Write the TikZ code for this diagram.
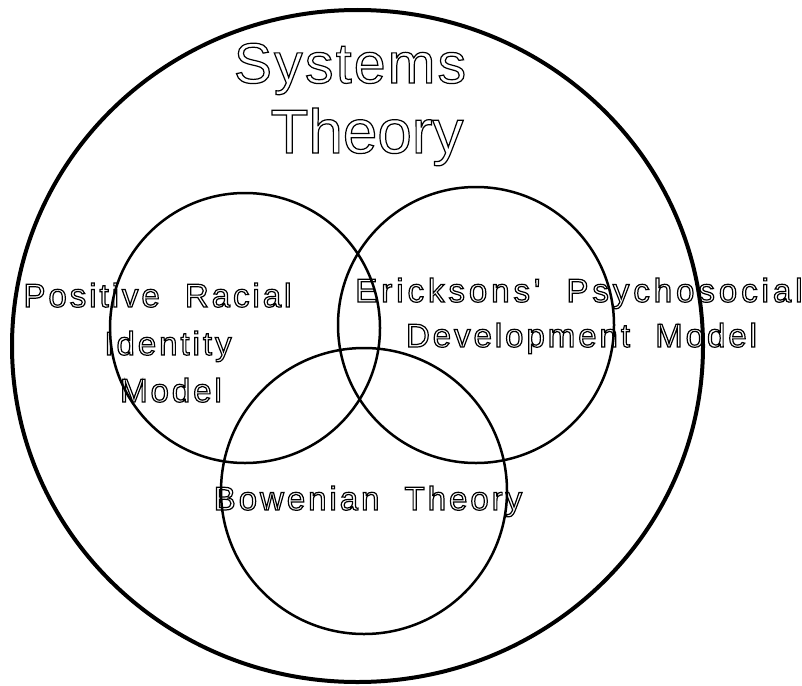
\documentclass[tikz,border=0pt]{standalone}
\usepackage{fontspec}
\setmainfont{Liberation Sans}
\newfontfamily\titlefont[LetterSpace=4]{Liberation Sans}
\newfontfamily\labelfont[LetterSpace=9]{Liberation Sans}
\newfontfamily\widelabelfont[LetterSpace=12]{Liberation Sans}
\usetikzlibrary{shapes.geometric}

% hollow lettering: glyph outlines stroked, interiors left open
\newcommand\hollow[1]{\special{pdf:literal direct 1 Tr 1.2 w}#1\special{pdf:literal direct 0 Tr}}
\newcommand\wgap{ \hspace{13pt}}

\tikzset{
  outerring/.style={ellipse, draw, line width=4pt, inner sep=0pt},
  ring/.style={circle, draw, line width=2.5pt, inner sep=0pt},
  title/.style={anchor=base, text=black, inner sep=0pt},
  label/.style={anchor=base, text=black, inner sep=0pt,
    font=\labelfont\fontsize{33}{36}\selectfont},
}

\begin{document}
\begin{tikzpicture}[x=1pt, y=-1pt]
  \useasboundingbox (0,0) rectangle (802,685);
  \fill[white] (0,0) rectangle (802,685);

  % enclosing field
  \node[outerring, minimum width=691pt, minimum height=672pt] (systems) at (357.5,346) {};

  % the three overlapping models
  \node[ring, minimum size=270pt] (racial) at (245,328) {};
  \node[ring, minimum size=276pt] (erikson) at (476,325) {};
  \node[ring, minimum size=286pt] (bowen) at (364,491) {};

  % titles
  \node[title, font=\titlefont\fontsize{57}{60}\selectfont] (t1) at (350,83) {\hollow{Systems}};
  \node[title, font=\fontsize{62}{66}\selectfont] (t2) at (367,153) {\hollow{Theory}};

  \node[label] (r1) at (157.5,307) {\hollow{Positive\wgap Racial}};
  \node[label] (r2) at (168,355) {\hollow{Identity}};
  \node[label] (r3) at (171,402) {\hollow{Model}};

  \node[label, font=\widelabelfont\fontsize{33}{36}\selectfont] (e1) at (579,302) {\hollow{Ericksons'\wgap Psychosocial}};
  \node[label] (e2) at (581.5,347) {\hollow{Development\wgap Model}};

  \node[label] (b1) at (368,510) {\hollow{Bowenian\wgap Theory}};
\end{tikzpicture}
\end{document}
